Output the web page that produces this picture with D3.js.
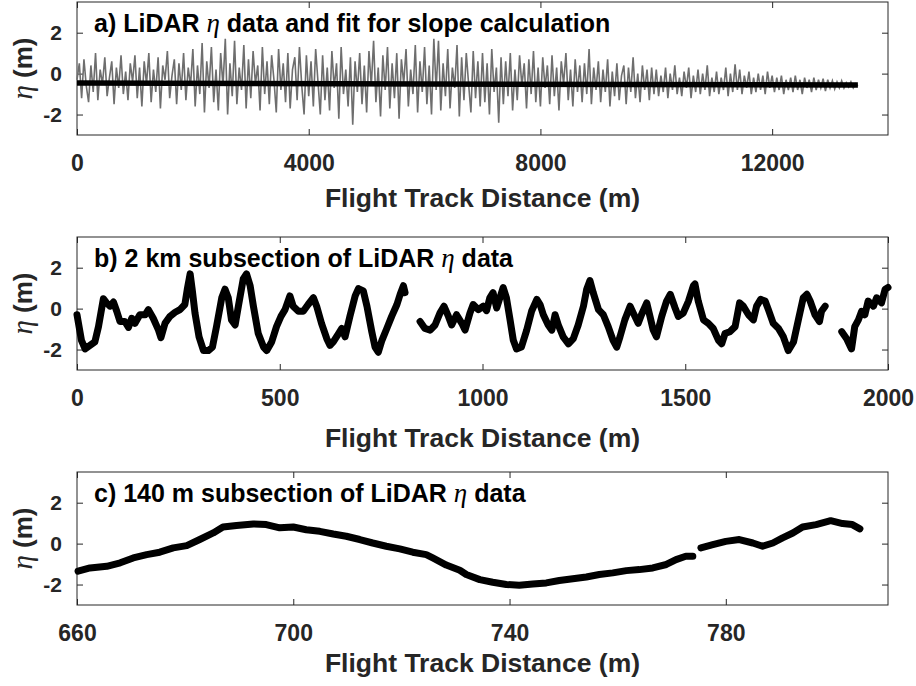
<!DOCTYPE html>
<html>
<head>
<meta charset="utf-8">
<script src="https://cdn.jsdelivr.net/npm/d3@7"></script>
<style>
  body { margin: 0; background: #fff; }
  text { font-family: "Liberation Sans", Arial, sans-serif; font-weight: bold; }
</style>
</head>
<body>
<svg id="svg" width="916" height="686"></svg>
<script>
// Panel a: LiDAR eta along the whole track, one value every 40 m
var aStep = 40;
var aEta = [
  -0.3, 0.5, -1.2, 0.7, -0.6, -1.4, 0.4, -0.9, 1.0, -1.3, 0.2, -0.5, 0.8, -1.1, -0.2, 0.6, -1.5, 0.3, -0.7, 0.9, -1.0, 0.1, -1.3, 0.5, -0.4,
  0.9, -1.2, 0.3, -1.6, 0.6, -0.5, 1.0, -1.4, 0.2, -0.9, 0.8, -1.7, 0.4, -0.3, 1.1, -1.2, -0.1, 0.7, -1.5, 0.5, -0.8, 1.0, -1.3, 0.3, -0.6,
  1.2, -1.6, 0.4, -1.0, 1.5, -1.9, 0.6, -0.7, 1.3, -1.4, 0.2, -1.8, 1.0, -0.6, 1.7, -2.0, 0.5, -1.1, 1.6, -1.5, 0.3, -0.8, 1.4, -1.7, 0.7,
  -1.2, 1.1, -0.5, 0.4, -1.8, 1.3, -1.0, 0.6, -1.5, 0.9, -0.3, -1.9, 1.2, -0.8, 0.5, -1.4, 1.0, -1.7, 0.2, 0.8, -1.3, 1.3, -0.6, -2.0, 0.9,
  -1.1, 0.6, -1.6, 1.2, -0.4, -2.0, 0.9, -1.3, 0.3, -1.8, 1.1, -0.7, 0.5, -2.2, 1.3, -1.0, 0.2, -1.6, 0.8, -2.5, 0.6, -0.9, 1.0, -1.5, 0.4,
  -1.9, 1.1, -0.6, 1.6, -1.4, 0.3, -2.1, 0.9, -0.8, 1.3, -1.7, 0.5, -1.2, 1.0, -2.2, 0.7, -0.5, 1.2, -1.6, 0.2, -1.0, 1.4, -1.9, 0.6, -0.9,
  1.3, -1.5, 0.4, -2.0, 1.7, -0.8, 1.6, -1.8, 0.5, -1.1, 1.2, -1.7, 0.3, -0.7, 1.4, -2.1, 0.8, -1.3, 1.0, -0.5, -1.9, 1.1, -1.2, 0.6, -1.6,
  1.0, -1.4, 0.5, -2.0, 1.2, -0.9, 0.3, -2.4, 0.8, -1.5, 0.6, -1.1, 1.0, -1.8, 0.2, -1.3, 0.9, -0.6, 0.5, -1.7, 0.7, -1.0, 1.1, -1.4, 0.3,
  -1.6, 0.8, -0.7, 0.4, -1.5, 0.9, -1.1, 0.3, -1.8, 0.6, -0.5, 1.0, -1.3, 0.2, -1.6, 0.7, -0.9, 0.4, -1.4, 0.5, -1.0, 1.2, -1.5, 0.3, -0.8,
  0.6, -1.4, 0.2, -0.9, 0.7, -1.6, 0.1, -1.1, 0.5, -1.3, -0.1, 0.4, -1.5, 0.3, -0.9, 0.8, -1.2, 0.0, -1.4, 0.4, -0.8, 0.2, -1.3, 0.3, -1.0,
  0.2, -1.1, -0.1, -0.9, 0.3, -1.2, 0.0, -0.8, 0.4, -1.0, -0.2, -1.1, 0.1, -0.7, 0.3, -1.2, -0.1, -0.9, 0.2, -1.0, 0.0, -0.8, 0.4, -1.1, -0.2,
  -0.9, 0.1, -1.0, -0.2, -0.8, 0.3, -1.1, 0.0, -0.9, 0.45, -0.8, 0.2, -1.0, -0.1, -0.7, 0.1, -1.0, -0.2, -0.9, 0.0, -0.8, -0.1, -1.0, 0.1, -0.7,
  -0.1, -0.9, -0.2, -0.8, -0.1, -1.0, -0.3, -0.8, -0.2, -0.9, -0.1, -0.8, -0.3, -1.0, -0.2, -0.7, -0.3, -0.9, -0.2, -0.8, -0.3, -0.7, -0.25, -0.85, -0.3,
  -0.7, -0.35, -0.75, -0.4, -0.7, -0.35, -0.7, -0.45, -0.65, -0.4, -0.7, -0.5, -0.6
];
// linear fit used for the slope
var fitDist = [0, 13480];
var fitEta = [-0.46, -0.56];

// Panel b: 2 km subsection (null = data gap)
var bDist = [0, 11, 20, 32, 44, 53, 65, 73, 81, 90, 98, 106, 118, 127, 135, 143, 155, 168, 176, 188,
  201, 207, 217, 229, 242, 254, 266, 272, 279, 284, 291, 301, 312, 324, 334, 344, 357, 365, 373, 381,
  390, 398, 410, 418, 427, 435, 447, 460, 468, 480, 492, 503, 513, 525, 533, 546, 558, 570, 583, 591,
  603, 616, 624, 632, 645, 653, 661, 673, 686, 694, 706, 715, 727, 735, 743, 752, 764, 776, 789, 797,
  805, 809, 827, 846, 858, 871, 883, 895, 905, 916, 924, 936, 949, 957, 969, 977, 990, 1002, 1010, 1018,
  1026, 1035, 1043, 1051, 1059, 1068, 1076, 1084, 1096, 1109, 1121, 1134, 1142, 1150, 1162, 1171, 1179, 1187, 1199, 1212,
  1224, 1236, 1249, 1257, 1265, 1273, 1286, 1298, 1310, 1322, 1331, 1339, 1351, 1364, 1372, 1384, 1392, 1405, 1413, 1421,
  1429, 1442, 1454, 1463, 1475, 1483, 1495, 1508, 1520, 1524, 1532, 1545, 1557, 1569, 1582, 1590, 1598, 1610, 1623, 1634,
  1643, 1656, 1668, 1676, 1686, 1697, 1705, 1717, 1730, 1742, 1754, 1767, 1779, 1791, 1800, 1808, 1820, 1831, 1836, 1845,
  1865, 1886, 1898, 1910, 1918, 1927, 1935, 1943, 1951, 1964, 1972, 1984, 1993, 2000];
var bEta = [-0.3, -1.55, -1.97, -1.8, -1.63, -0.88, 0.48, 0.28, 0.12, 0.32, -0.13, -0.63, -0.63, -0.92, -0.47, -0.72, -0.3, -0.3, -0.05, -0.47,
  -1.05, -1.42, -0.72, -0.38, -0.18, -0.05, 0.2, 0.95, 1.7, 0.95, -0.22, -1.38, -2.05, -2.05, -1.88, -0.88, 0.53, 0.95, 0.53, -0.55,
  -0.8, 0.12, 1.45, 1.7, 1.12, 0.12, -1.22, -1.88, -2.05, -1.63, -0.88, -0.38, -0.05, 0.62, 0.12, -0.13, -0.13, 0.2, 0.53, 0.12,
  -0.72, -1.47, -1.8, -1.63, -1.22, -0.97, -1.38, -0.38, 0.62, 0.98, 0.87, 0.12, -1.13, -1.88, -2.13, -1.55, -0.97, -0.38, 0.2, 0.7,
  1.12, 0.78, null, -0.63, -0.97, -1.05, -0.8, -0.22, 0.12, -0.38, -0.8, -0.3, -0.72, -1.05, -0.22, 0.2, -0.05, 0.12, -0.1, 0.53,
  0.78, 0.03, 0.53, 1.03, 0.53, -0.55, -1.55, -1.97, -1.88, -1.05, -0.13, 0.45, 0.2, -0.3, -0.8, -1.05, -0.3, -0.8, -1.38, -1.72,
  -1.47, -0.8, 0.12, 0.95, 1.37, 0.78, -0.05, -0.3, -0.88, -1.55, -1.88, -1.38, -0.55, 0.12, -0.22, -0.72, -0.3, 0.28, -0.38, -1.05,
  -1.38, -0.38, 0.37, 0.7, 0.03, -0.38, -0.22, 0.37, 1.12, 1.2, 0.37, -0.55, -0.72, -0.97, -1.55, -1.72, -1.22, -1.13, -0.88, 0.28,
  0.12, -0.3, -0.55, 0.12, 0.45, 0.37, -0.05, -0.72, -0.97, -1.38, -2.05, -1.63, -0.55, 0.53, 0.7, 0.37, -0.3, -0.63, -0.13, 0.12,
  null, -1.13, -1.47, -1.97, -0.88, -0.55, -0.13, -0.3, 0.37, 0.12, 0.53, 0.28, 0.95, 1.03];

// Panel c: 140 m subsection
var cDist = [660.2, 662.4, 665.5, 668, 670.4, 672.9, 675.3, 677.8, 680.3, 682.7, 685.2, 687, 689.5, 692.6, 695, 697.5, 700,
  702.4, 704.9, 707.4, 709.8, 712.3, 714.7, 717.2, 719.7, 722.1, 724.6, 725.8, 728.3, 730.8, 732, 734.5, 736.9, 739.4,
  741.8, 744.3, 746.8, 749.2, 751.7, 754.2, 756.6, 759.1, 761.6, 764, 766.5, 769, 770.8, 772.6, 773.9, 774.6, 775.4,
  777.6, 780, 782.5, 785, 786.8, 788.7, 790.5, 792.4, 794.2, 796.7, 799.4, 801.6, 803.4, 804.8];
var cEta = [-1.35, -1.19, -1.11, -0.94, -0.7, -0.54, -0.42, -0.21, -0.1, 0.2, 0.52, 0.81, 0.89, 0.96, 0.93, 0.77, 0.81,
  0.68, 0.6, 0.47, 0.36, 0.2, 0.03, -0.13, -0.26, -0.42, -0.54, -0.7, -1.05, -1.3, -1.51, -1.76, -1.89, -2.0,
  -2.03, -1.97, -1.92, -1.8, -1.72, -1.63, -1.51, -1.43, -1.32, -1.27, -1.19, -1.02, -0.78, -0.62, -0.62, null, -0.21,
  -0.05, 0.11, 0.2, 0.03, -0.13, 0.03, 0.28, 0.52, 0.81, 0.93, 1.12, 0.98, 0.93, 0.72];

var aTicks = [0, 4000, 8000, 12000];
var bTicks = [0, 500, 1000, 1500, 2000];
var cTicks = [660, 700, 740, 780];
var yTicks = [-2, 0, 2];

var svg = d3.select("#svg");
var left = 77, right = 888, ph = 133;
var axisColor = "#262626";

function zip(xs, ys) {
  return xs.map(function(x, i) { return {x: x, y: ys[i]}; });
}

function drawPanel(top, xDomain, xTicks, titleStart, titleEnd, labelGap) {
  var x = d3.scaleLinear().domain(xDomain).range([left, right]);
  var y = d3.scaleLinear().domain([-3, 3.5]).range([top + ph, top]);
  var g = svg.append("g");

  // bottom axis with labels, inward ticks
  var bx = g.append("g").attr("transform", "translate(0," + (top + ph) + ")")
    .call(d3.axisBottom(x).tickValues(xTicks).tickFormat(function(d) { return String(d); })
      .tickSizeInner(-6).tickSizeOuter(0).tickPadding(20));
  bx.selectAll("text").attr("font-size", 23).attr("fill", axisColor);
  g.append("g").attr("transform", "translate(0," + top + ")")
    .call(d3.axisTop(x).tickValues(xTicks).tickFormat("").tickSizeInner(-6).tickSizeOuter(0));
  var ly = g.append("g").attr("transform", "translate(" + left + ",0)")
    .call(d3.axisLeft(y).tickValues(yTicks).tickFormat(function(d) { return String(d); })
      .tickSizeInner(-6).tickSizeOuter(0).tickPadding(15));
  ly.selectAll("text").attr("font-size", 21).attr("fill", axisColor);
  g.append("g").attr("transform", "translate(" + right + ",0)")
    .call(d3.axisRight(y).tickValues(yTicks).tickFormat("").tickSizeInner(-6).tickSizeOuter(0));
  g.selectAll(".domain").remove();
  g.selectAll(".tick line").attr("stroke", axisColor);
  g.selectAll(".tick text").attr("font-family", "Liberation Sans, Arial, sans-serif").attr("font-weight", "bold");

  g.append("rect")
    .attr("x", left).attr("y", top).attr("width", right - left).attr("height", ph)
    .attr("fill", "none").attr("stroke", axisColor).attr("stroke-width", 1);

  // title
  var t = g.append("text").attr("x", 94).attr("y", top + 30).attr("font-size", 25).attr("fill", "#000");
  t.append("tspan").text(titleStart);
  t.append("tspan").attr("font-family", "Liberation Serif, serif").attr("font-style", "italic")
    .attr("font-weight", "normal").attr("font-size", 27).text("\u03b7");
  t.append("tspan").text(titleEnd);

  // axis labels
  g.append("text").attr("x", (left + right) / 2).attr("y", top + ph + labelGap)
    .attr("text-anchor", "middle").attr("font-size", 26.5).attr("fill", axisColor)
    .text("Flight Track Distance (m)");
  var yl = g.append("text")
    .attr("transform", "translate(32," + (top + ph / 2) + ") rotate(-90)")
    .attr("text-anchor", "middle").attr("font-size", 26).attr("fill", axisColor);
  yl.append("tspan").attr("font-family", "Liberation Serif, serif").attr("font-style", "italic")
    .attr("font-weight", "normal").attr("font-size", 29).text("\u03b7");
  yl.append("tspan").text(" (m)");

  return {x: x, y: y, g: g};
}

// a)
var pa = drawPanel(2, [0, 14000], aTicks, "a) LiDAR ", " data and fit for slope calculation", 72);
var lineA = d3.line().x(function(d) { return pa.x(d.x); }).y(function(d) { return pa.y(d.y); });
var aData = aEta.map(function(v, i) { return {x: i * aStep, y: v}; });
pa.g.append("path").datum(aData).attr("d", lineA)
  .attr("fill", "none").attr("stroke", "#6e6e6e").attr("stroke-width", 1.6);
pa.g.append("path").datum(zip(fitDist, fitEta)).attr("d", lineA)
  .attr("fill", "none").attr("stroke", "#000").attr("stroke-width", 5.5);

// b)
var pb = drawPanel(237, [0, 2000], bTicks, "b) 2 km subsection of LiDAR ", " data", 77);
var lineB = d3.line().defined(function(d) { return d.y !== null; })
  .x(function(d) { return pb.x(d.x); }).y(function(d) { return pb.y(d.y); });
pb.g.append("path").datum(zip(bDist, bEta)).attr("d", lineB)
  .attr("fill", "none").attr("stroke", "#000").attr("stroke-width", 7)
  .attr("stroke-linejoin", "round").attr("stroke-linecap", "round");

// c)
var pc = drawPanel(472, [660, 810], cTicks, "c) 140 m subsection of LiDAR ", " data", 67);
var lineC = d3.line().defined(function(d) { return d.y !== null; })
  .x(function(d) { return pc.x(d.x); }).y(function(d) { return pc.y(d.y); });
pc.g.append("path").datum(zip(cDist, cEta)).attr("d", lineC)
  .attr("fill", "none").attr("stroke", "#000").attr("stroke-width", 7)
  .attr("stroke-linejoin", "round").attr("stroke-linecap", "round");
</script>
</body>
</html>
